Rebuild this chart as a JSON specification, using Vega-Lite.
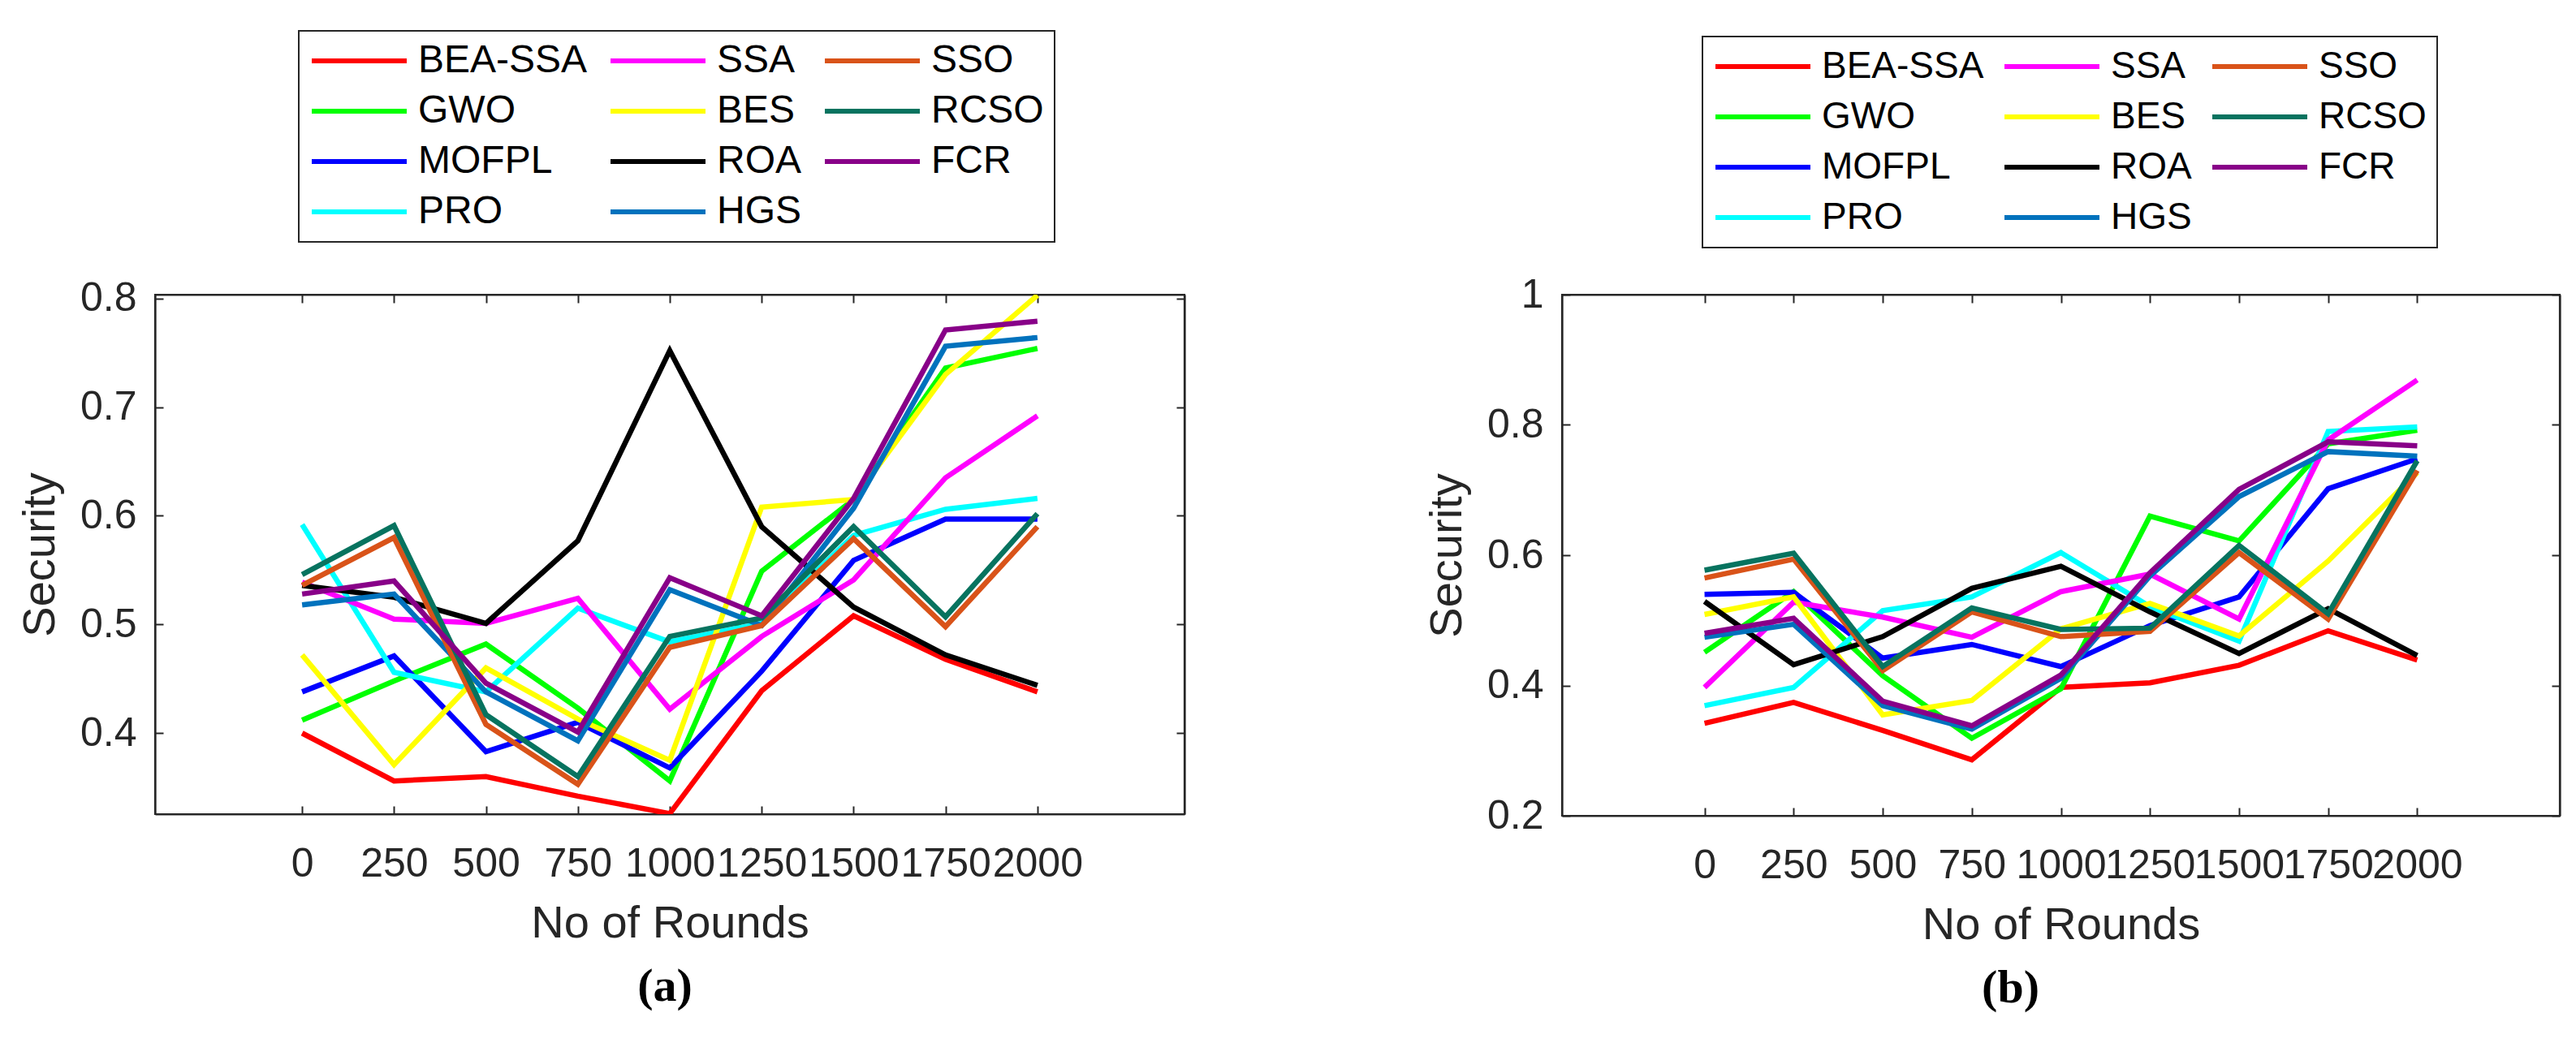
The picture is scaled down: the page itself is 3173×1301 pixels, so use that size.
{
  "$schema": "https://vega.github.io/schema/vega-lite/v6.json",
  "padding": {"left": 20, "top": 35, "right": 0, "bottom": 0},
  "background": "white",
  "config": {
    "view": {"stroke": "#262626", "strokeWidth": 2.2},
    "font": "Liberation Sans",
    "axis": {
      "labelFont": "Liberation Sans", "labelFontSize": 50, "labelColor": "#262626",
      "titleFont": "Liberation Sans", "titleFontSize": 56, "titleFontWeight": "normal", "titleColor": "#262626",
      "tickColor": "#262626", "tickWidth": 2, "tickSize": -10,
      "domainColor": "#262626", "domainWidth": 2.2,
      "grid": false, "labelFlush": false, "labelOverlap": false, "labelBound": false
    },
    "legend": {
      "orient": "none", "columns": 3, "symbolType": "stroke", "symbolSize": 13689, "symbolStrokeWidth": 6,
      "clipHeight": 48,
      "labelFont": "Liberation Sans", "labelFontSize": 48, "labelColor": "black", "labelOffset": 11, "labelLimit": 0,
      "columnPadding": 25, "rowPadding": 14, "padding": 13,
      "strokeColor": "#262626", "strokeWidth": 2, "fillColor": "white"
    }
  },
  "datasets": {
    "a": [
      {"rounds": 0, "security": 0.400, "algo": "BEA-SSA"}, {"rounds": 250, "security": 0.356, "algo": "BEA-SSA"}, {"rounds": 500, "security": 0.360, "algo": "BEA-SSA"}, {"rounds": 750, "security": 0.342, "algo": "BEA-SSA"}, {"rounds": 1000, "security": 0.326, "algo": "BEA-SSA"}, {"rounds": 1250, "security": 0.439, "algo": "BEA-SSA"}, {"rounds": 1500, "security": 0.508, "algo": "BEA-SSA"}, {"rounds": 1750, "security": 0.468, "algo": "BEA-SSA"}, {"rounds": 2000, "security": 0.438, "algo": "BEA-SSA"},
      {"rounds": 0, "security": 0.412, "algo": "GWO"}, {"rounds": 250, "security": 0.448, "algo": "GWO"}, {"rounds": 500, "security": 0.482, "algo": "GWO"}, {"rounds": 750, "security": 0.423, "algo": "GWO"}, {"rounds": 1000, "security": 0.356, "algo": "GWO"}, {"rounds": 1250, "security": 0.549, "algo": "GWO"}, {"rounds": 1500, "security": 0.615, "algo": "GWO"}, {"rounds": 1750, "security": 0.736, "algo": "GWO"}, {"rounds": 2000, "security": 0.754, "algo": "GWO"},
      {"rounds": 0, "security": 0.438, "algo": "MOFPL"}, {"rounds": 250, "security": 0.471, "algo": "MOFPL"}, {"rounds": 500, "security": 0.383, "algo": "MOFPL"}, {"rounds": 750, "security": 0.410, "algo": "MOFPL"}, {"rounds": 1000, "security": 0.368, "algo": "MOFPL"}, {"rounds": 1250, "security": 0.457, "algo": "MOFPL"}, {"rounds": 1500, "security": 0.559, "algo": "MOFPL"}, {"rounds": 1750, "security": 0.597, "algo": "MOFPL"}, {"rounds": 2000, "security": 0.597, "algo": "MOFPL"},
      {"rounds": 0, "security": 0.592, "algo": "PRO"}, {"rounds": 250, "security": 0.456, "algo": "PRO"}, {"rounds": 500, "security": 0.438, "algo": "PRO"}, {"rounds": 750, "security": 0.515, "algo": "PRO"}, {"rounds": 1000, "security": 0.484, "algo": "PRO"}, {"rounds": 1250, "security": 0.501, "algo": "PRO"}, {"rounds": 1500, "security": 0.582, "algo": "PRO"}, {"rounds": 1750, "security": 0.606, "algo": "PRO"}, {"rounds": 2000, "security": 0.616, "algo": "PRO"},
      {"rounds": 0, "security": 0.539, "algo": "SSA"}, {"rounds": 250, "security": 0.505, "algo": "SSA"}, {"rounds": 500, "security": 0.501, "algo": "SSA"}, {"rounds": 750, "security": 0.524, "algo": "SSA"}, {"rounds": 1000, "security": 0.422, "algo": "SSA"}, {"rounds": 1250, "security": 0.489, "algo": "SSA"}, {"rounds": 1500, "security": 0.541, "algo": "SSA"}, {"rounds": 1750, "security": 0.635, "algo": "SSA"}, {"rounds": 2000, "security": 0.692, "algo": "SSA"},
      {"rounds": 0, "security": 0.472, "algo": "BES"}, {"rounds": 250, "security": 0.371, "algo": "BES"}, {"rounds": 500, "security": 0.460, "algo": "BES"}, {"rounds": 750, "security": 0.413, "algo": "BES"}, {"rounds": 1000, "security": 0.375, "algo": "BES"}, {"rounds": 1250, "security": 0.608, "algo": "BES"}, {"rounds": 1500, "security": 0.615, "algo": "BES"}, {"rounds": 1750, "security": 0.730, "algo": "BES"}, {"rounds": 2000, "security": 0.803, "algo": "BES"},
      {"rounds": 0, "security": 0.536, "algo": "ROA"}, {"rounds": 250, "security": 0.525, "algo": "ROA"}, {"rounds": 500, "security": 0.501, "algo": "ROA"}, {"rounds": 750, "security": 0.577, "algo": "ROA"}, {"rounds": 1000, "security": 0.752, "algo": "ROA"}, {"rounds": 1250, "security": 0.590, "algo": "ROA"}, {"rounds": 1500, "security": 0.516, "algo": "ROA"}, {"rounds": 1750, "security": 0.472, "algo": "ROA"}, {"rounds": 2000, "security": 0.444, "algo": "ROA"},
      {"rounds": 0, "security": 0.518, "algo": "HGS"}, {"rounds": 250, "security": 0.528, "algo": "HGS"}, {"rounds": 500, "security": 0.438, "algo": "HGS"}, {"rounds": 750, "security": 0.393, "algo": "HGS"}, {"rounds": 1000, "security": 0.532, "algo": "HGS"}, {"rounds": 1250, "security": 0.499, "algo": "HGS"}, {"rounds": 1500, "security": 0.607, "algo": "HGS"}, {"rounds": 1750, "security": 0.756, "algo": "HGS"}, {"rounds": 2000, "security": 0.764, "algo": "HGS"},
      {"rounds": 0, "security": 0.536, "algo": "SSO"}, {"rounds": 250, "security": 0.580, "algo": "SSO"}, {"rounds": 500, "security": 0.408, "algo": "SSO"}, {"rounds": 750, "security": 0.353, "algo": "SSO"}, {"rounds": 1000, "security": 0.479, "algo": "SSO"}, {"rounds": 1250, "security": 0.499, "algo": "SSO"}, {"rounds": 1500, "security": 0.579, "algo": "SSO"}, {"rounds": 1750, "security": 0.498, "algo": "SSO"}, {"rounds": 2000, "security": 0.590, "algo": "SSO"},
      {"rounds": 0, "security": 0.546, "algo": "RCSO"}, {"rounds": 250, "security": 0.591, "algo": "RCSO"}, {"rounds": 500, "security": 0.417, "algo": "RCSO"}, {"rounds": 750, "security": 0.360, "algo": "RCSO"}, {"rounds": 1000, "security": 0.489, "algo": "RCSO"}, {"rounds": 1250, "security": 0.506, "algo": "RCSO"}, {"rounds": 1500, "security": 0.590, "algo": "RCSO"}, {"rounds": 1750, "security": 0.507, "algo": "RCSO"}, {"rounds": 2000, "security": 0.602, "algo": "RCSO"},
      {"rounds": 0, "security": 0.528, "algo": "FCR"}, {"rounds": 250, "security": 0.540, "algo": "FCR"}, {"rounds": 500, "security": 0.446, "algo": "FCR"}, {"rounds": 750, "security": 0.401, "algo": "FCR"}, {"rounds": 1000, "security": 0.543, "algo": "FCR"}, {"rounds": 1250, "security": 0.508, "algo": "FCR"}, {"rounds": 1500, "security": 0.616, "algo": "FCR"}, {"rounds": 1750, "security": 0.771, "algo": "FCR"}, {"rounds": 2000, "security": 0.779, "algo": "FCR"}
    ],
    "b": [
      {"rounds": 0, "security": 0.342, "algo": "BEA-SSA"}, {"rounds": 250, "security": 0.374, "algo": "BEA-SSA"}, {"rounds": 500, "security": 0.331, "algo": "BEA-SSA"}, {"rounds": 750, "security": 0.286, "algo": "BEA-SSA"}, {"rounds": 1000, "security": 0.397, "algo": "BEA-SSA"}, {"rounds": 1250, "security": 0.404, "algo": "BEA-SSA"}, {"rounds": 1500, "security": 0.431, "algo": "BEA-SSA"}, {"rounds": 1750, "security": 0.484, "algo": "BEA-SSA"}, {"rounds": 2000, "security": 0.439, "algo": "BEA-SSA"},
      {"rounds": 0, "security": 0.451, "algo": "GWO"}, {"rounds": 250, "security": 0.544, "algo": "GWO"}, {"rounds": 500, "security": 0.415, "algo": "GWO"}, {"rounds": 750, "security": 0.319, "algo": "GWO"}, {"rounds": 1000, "security": 0.395, "algo": "GWO"}, {"rounds": 1250, "security": 0.660, "algo": "GWO"}, {"rounds": 1500, "security": 0.622, "algo": "GWO"}, {"rounds": 1750, "security": 0.771, "algo": "GWO"}, {"rounds": 2000, "security": 0.792, "algo": "GWO"},
      {"rounds": 0, "security": 0.540, "algo": "MOFPL"}, {"rounds": 250, "security": 0.543, "algo": "MOFPL"}, {"rounds": 500, "security": 0.442, "algo": "MOFPL"}, {"rounds": 750, "security": 0.463, "algo": "MOFPL"}, {"rounds": 1000, "security": 0.429, "algo": "MOFPL"}, {"rounds": 1250, "security": 0.492, "algo": "MOFPL"}, {"rounds": 1500, "security": 0.536, "algo": "MOFPL"}, {"rounds": 1750, "security": 0.702, "algo": "MOFPL"}, {"rounds": 2000, "security": 0.748, "algo": "MOFPL"},
      {"rounds": 0, "security": 0.369, "algo": "PRO"}, {"rounds": 250, "security": 0.397, "algo": "PRO"}, {"rounds": 500, "security": 0.515, "algo": "PRO"}, {"rounds": 750, "security": 0.536, "algo": "PRO"}, {"rounds": 1000, "security": 0.604, "algo": "PRO"}, {"rounds": 1250, "security": 0.521, "algo": "PRO"}, {"rounds": 1500, "security": 0.468, "algo": "PRO"}, {"rounds": 1750, "security": 0.790, "algo": "PRO"}, {"rounds": 2000, "security": 0.797, "algo": "PRO"},
      {"rounds": 0, "security": 0.397, "algo": "SSA"}, {"rounds": 250, "security": 0.528, "algo": "SSA"}, {"rounds": 500, "security": 0.505, "algo": "SSA"}, {"rounds": 750, "security": 0.474, "algo": "SSA"}, {"rounds": 1000, "security": 0.544, "algo": "SSA"}, {"rounds": 1250, "security": 0.571, "algo": "SSA"}, {"rounds": 1500, "security": 0.502, "algo": "SSA"}, {"rounds": 1750, "security": 0.777, "algo": "SSA"}, {"rounds": 2000, "security": 0.869, "algo": "SSA"},
      {"rounds": 0, "security": 0.509, "algo": "BES"}, {"rounds": 250, "security": 0.536, "algo": "BES"}, {"rounds": 500, "security": 0.355, "algo": "BES"}, {"rounds": 750, "security": 0.377, "algo": "BES"}, {"rounds": 1000, "security": 0.487, "algo": "BES"}, {"rounds": 1250, "security": 0.526, "algo": "BES"}, {"rounds": 1500, "security": 0.476, "algo": "BES"}, {"rounds": 1750, "security": 0.591, "algo": "BES"}, {"rounds": 2000, "security": 0.727, "algo": "BES"},
      {"rounds": 0, "security": 0.529, "algo": "ROA"}, {"rounds": 250, "security": 0.432, "algo": "ROA"}, {"rounds": 500, "security": 0.475, "algo": "ROA"}, {"rounds": 750, "security": 0.549, "algo": "ROA"}, {"rounds": 1000, "security": 0.583, "algo": "ROA"}, {"rounds": 1250, "security": 0.513, "algo": "ROA"}, {"rounds": 1500, "security": 0.449, "algo": "ROA"}, {"rounds": 1750, "security": 0.518, "algo": "ROA"}, {"rounds": 2000, "security": 0.446, "algo": "ROA"},
      {"rounds": 0, "security": 0.474, "algo": "HGS"}, {"rounds": 250, "security": 0.494, "algo": "HGS"}, {"rounds": 500, "security": 0.369, "algo": "HGS"}, {"rounds": 750, "security": 0.333, "algo": "HGS"}, {"rounds": 1000, "security": 0.411, "algo": "HGS"}, {"rounds": 1250, "security": 0.568, "algo": "HGS"}, {"rounds": 1500, "security": 0.690, "algo": "HGS"}, {"rounds": 1750, "security": 0.759, "algo": "HGS"}, {"rounds": 2000, "security": 0.752, "algo": "HGS"},
      {"rounds": 0, "security": 0.565, "algo": "SSO"}, {"rounds": 250, "security": 0.594, "algo": "SSO"}, {"rounds": 500, "security": 0.423, "algo": "SSO"}, {"rounds": 750, "security": 0.513, "algo": "SSO"}, {"rounds": 1000, "security": 0.475, "algo": "SSO"}, {"rounds": 1250, "security": 0.483, "algo": "SSO"}, {"rounds": 1500, "security": 0.604, "algo": "SSO"}, {"rounds": 1750, "security": 0.502, "algo": "SSO"}, {"rounds": 2000, "security": 0.730, "algo": "SSO"},
      {"rounds": 0, "security": 0.577, "algo": "RCSO"}, {"rounds": 250, "security": 0.603, "algo": "RCSO"}, {"rounds": 500, "security": 0.429, "algo": "RCSO"}, {"rounds": 750, "security": 0.519, "algo": "RCSO"}, {"rounds": 1000, "security": 0.486, "algo": "RCSO"}, {"rounds": 1250, "security": 0.488, "algo": "RCSO"}, {"rounds": 1500, "security": 0.615, "algo": "RCSO"}, {"rounds": 1750, "security": 0.510, "algo": "RCSO"}, {"rounds": 2000, "security": 0.745, "algo": "RCSO"},
      {"rounds": 0, "security": 0.480, "algo": "FCR"}, {"rounds": 250, "security": 0.503, "algo": "FCR"}, {"rounds": 500, "security": 0.376, "algo": "FCR"}, {"rounds": 750, "security": 0.338, "algo": "FCR"}, {"rounds": 1000, "security": 0.416, "algo": "FCR"}, {"rounds": 1250, "security": 0.573, "algo": "FCR"}, {"rounds": 1500, "security": 0.701, "algo": "FCR"}, {"rounds": 1750, "security": 0.774, "algo": "FCR"}, {"rounds": 2000, "security": 0.768, "algo": "FCR"}
    ]
  },
  "hconcat": [
    {
      "data": {"name": "a"},
      "width": 1268,
      "height": 640,
      "title": {"text": "(a)", "orient": "bottom", "frame": "group", "font": "Liberation Serif", "fontSize": 58, "fontWeight": "bold", "color": "black", "offset": 22, "dx": -6},
      "layer": [
        {
          "mark": {"type": "line", "clip": true, "strokeWidth": 6.5},
          "encoding": {
            "x": {"field": "rounds", "type": "quantitative", "scale": {"domain": [-250, 2250]},
                  "axis": {"orient": "bottom", "values": [0, 250, 500, 750, 1000, 1250, 1500, 1750, 2000], "format": "d", "labelPadding": 46, "titlePadding": 21, "title": "No of Rounds"}},
            "y": {"field": "security", "type": "quantitative", "scale": {"domain": [0.3255, 0.8035], "zero": false, "nice": false},
                  "axis": {"orient": "left", "values": [0.4, 0.5, 0.6, 0.7, 0.8], "format": ".1f", "labelPadding": 33, "titlePadding": 20, "title": "Security"}},
            "color": {"field": "algo", "type": "nominal",
                      "scale": {"domain": ["BEA-SSA", "GWO", "MOFPL", "PRO", "SSA", "BES", "ROA", "HGS", "SSO", "RCSO", "FCR"],
                                "range": ["#FF0000", "#00FF00", "#0000FF", "#00FFFF", "#FF00FF", "#FFFF00", "#000000", "#0072BD", "#D95319", "#07735F", "#880088"]},
                      "legend": {"title": null, "legendX": 177, "legendY": -325}}
          }
        },
        {
          "mark": {"type": "line", "opacity": 0},
          "encoding": {
            "x": {"field": "rounds", "type": "quantitative",
                  "axis": {"orient": "top", "values": [0, 250, 500, 750, 1000, 1250, 1500, 1750, 2000], "labels": false, "title": null}},
            "y": {"field": "security", "type": "quantitative",
                  "axis": {"orient": "right", "values": [0.4, 0.5, 0.6, 0.7, 0.8], "labels": false, "title": null}}
          }
        }
      ],
      "resolve": {"axis": {"x": "independent", "y": "independent"}}
    },
    {
      "data": {"name": "b"},
      "width": 1229,
      "height": 642,
      "title": {"text": "(b)", "orient": "bottom", "frame": "group", "font": "Liberation Serif", "fontSize": 58, "fontWeight": "bold", "color": "black", "offset": 22, "dx": -62},
      "layer": [
        {
          "mark": {"type": "line", "clip": true, "strokeWidth": 6.5},
          "encoding": {
            "x": {"field": "rounds", "type": "quantitative", "scale": {"domain": [-250, 2250]},
                  "axis": {"orient": "bottom", "values": [0, 250, 500, 750, 1000, 1250, 1500, 1750, 2000], "format": "d", "labelPadding": 46, "titlePadding": 21, "title": "No of Rounds"}},
            "y": {"field": "security", "type": "quantitative", "scale": {"domain": [0.2, 1], "zero": false, "nice": false},
                  "axis": {"orient": "left", "values": [0.2, 0.4, 0.6, 0.8, 1], "format": "~g", "labelPadding": 33, "titlePadding": 20, "title": "Security"}},
            "color": {"field": "algo", "type": "nominal",
                      "scale": {"domain": ["BEA-SSA", "GWO", "MOFPL", "PRO", "SSA", "BES", "ROA", "HGS", "SSO", "RCSO", "FCR"],
                                "range": ["#FF0000", "#00FF00", "#0000FF", "#00FFFF", "#FF00FF", "#FFFF00", "#000000", "#0072BD", "#D95319", "#07735F", "#880088"]},
                      "legend": {"title": null, "legendX": 173, "legendY": -318, "labelFontSize": 46, "columnPadding": 22}}
          }
        },
        {
          "mark": {"type": "line", "opacity": 0},
          "encoding": {
            "x": {"field": "rounds", "type": "quantitative",
                  "axis": {"orient": "top", "values": [0, 250, 500, 750, 1000, 1250, 1500, 1750, 2000], "labels": false, "title": null}},
            "y": {"field": "security", "type": "quantitative",
                  "axis": {"orient": "right", "values": [0.2, 0.4, 0.6, 0.8, 1], "labels": false, "title": null}}
          }
        }
      ],
      "resolve": {"axis": {"x": "independent", "y": "independent"}}
    }
  ],
  "spacing": 291,
  "resolve": {
    "scale": {"x": "independent", "y": "independent", "color": "independent"},
    "legend": {"color": "independent"}
  }
}
